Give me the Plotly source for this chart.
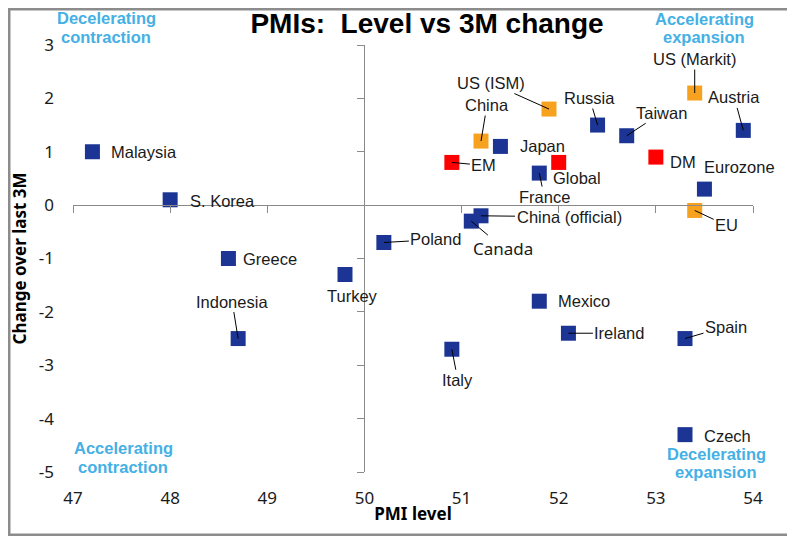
import plotly.graph_objects as go

# ---- data ----
countries = ["Malaysia", "S. Korea", "Greece", "Indonesia", "Turkey", "Poland", "Italy",
             "Canada", "China (official)", "Mexico", "Ireland", "Spain", "Czech",
             "Eurozone", "Austria", "Taiwan", "Russia", "Japan", "France"]
countries_pmi = [47.2, 48.0, 48.6, 48.7, 49.8, 50.2, 50.9,
                 51.1, 51.2, 51.8, 52.1, 53.3, 53.3,
                 53.5, 53.9, 52.7, 52.4, 51.4, 51.8]
countries_chg = [1.0, 0.1, -1.0, -2.5, -1.3, -0.7, -2.7,
                 -0.3, -0.2, -1.8, -2.4, -2.5, -4.3,
                 0.3, 1.4, 1.3, 1.5, 1.1, 0.6]

majors = ["US (Markit)", "US (ISM)", "China", "EU"]
majors_pmi = [53.4, 51.9, 51.2, 53.4]
majors_chg = [2.1, 1.8, 1.2, -0.1]

aggregates = ["DM", "Global", "EM"]
aggregates_pmi = [53.0, 52.0, 50.9]
aggregates_chg = [0.9, 0.8, 0.8]

x_ticks = [47, 48, 49, 50, 51, 52, 53, 54]
y_ticks = [3, 2, 1, 0, -1, -2, -3, -4, -5]

quadrant_lines = ["Decelerating", "contraction", "Accelerating", "expansion",
                  "Accelerating", "contraction", "Decelerating", "expansion"]

# label offsets in pixels (dx, dy) and whether a leader line is drawn
label_pos = {
    "Malaysia": (52, 0, False), "S. Korea": (52, 1, False), "Greece": (42, 0, False),
    "Indonesia": (-6, -37, True), "Turkey": (7, 21, False), "Poland": (52, -3, True),
    "Italy": (6, 31, True), "Canada": (32, 27, True), "China (official)": (88, 1, True),
    "Mexico": (45, 0, False), "Ireland": (51, 0, True), "Spain": (41, -12, True),
    "Czech": (42, 1, False), "Eurozone": (35, -22, False), "Austria": (-9, -33, True),
    "Taiwan": (35, -23, True), "Russia": (-8, -27, True), "Japan": (42, 0, False),
    "France": (5, 24, True), "US (Markit)": (0, -34, True), "US (ISM)": (-58, -26, True),
    "China": (6, -36, True), "EU": (32, 15, True), "DM": (27, 5, False),
    "Global": (18, 16, False), "EM": (32, 3, True),
}

BLUE = "#1C3594"
ORANGE = "#F7A21E"
RED = "#FF0000"
QUAD = "#45B0E4"
AXIS_GREY = "#8A8A8A"

# page has an 8px body margin: figure is sized to fill the remaining window
W, H = 787, 528
ML, MT, MR, MB = 65, 37, 42, 64
PW, PH = W - ML - MR, H - MT - MB  # 680 x 427


def px_to_paper(px, py):
    # px, py are page pixel positions; plot area spans page x 73..753, y 45..472
    return (px - (ML + 8)) / PW, ((MT + 8 + PH) - py) / PH


fig = go.Figure()

groups = [(countries, countries_pmi, countries_chg, BLUE),
          (majors, majors_pmi, majors_chg, ORANGE),
          (aggregates, aggregates_pmi, aggregates_chg, RED)]

annotations = []
for names, xs, ys, col in groups:
    fig.add_trace(go.Scatter(x=xs, y=ys, mode="markers", text=names,
                             marker=dict(symbol="square", size=15, color=col, line=dict(width=0)),
                             showlegend=False, hovertemplate="%{text}: %{x}, %{y}<extra></extra>"))
    for n, xv, yv in zip(names, xs, ys):
        dx, dy, leader = label_pos[n]
        fnt = dict(family="Liberation Sans", size=16.5, color="#1a1a1a")
        if n == "Canada":
            fnt = dict(family="Noto Sans", size=17, color="#1a1a1a")
        annotations.append(dict(x=xv, y=yv, xref="x", yref="y", text=n, showarrow=True,
                                ax=dx, ay=dy, arrowhead=0, arrowwidth=1, standoff=0,
                                arrowcolor="#000000" if leader else "rgba(0,0,0,0)",
                                font=fnt))

# invisible trace to carry the crossing axes
fig.add_trace(go.Scatter(x=[50], y=[0], xaxis="x2", yaxis="y2", mode="markers",
                         marker=dict(opacity=0), showlegend=False, hoverinfo="skip"))

quad_px = [(106, 18), (106, 37), (704, 19), (704, 37),
           (123, 448), (123, 467), (716, 454), (716, 472)]
for t, (qx, qy) in zip(quadrant_lines, quad_px):
    xp, yp = px_to_paper(qx, qy)
    annotations.append(dict(x=xp, y=yp, xref="paper", yref="paper", text="<b>%s</b>" % t,
                            showarrow=False, xanchor="center", yanchor="middle",
                            font=dict(family="Liberation Sans", size=16.5, color=QUAD)))

tick_font = dict(family="Noto Sans", size=17, color="#1a1a1a")
title_font = dict(family="Noto Sans", size=17, color="#000000")

fig.update_layout(
    width=W, height=H,
    margin=dict(l=ML, r=MR, t=MT, b=MB, autoexpand=False),
    paper_bgcolor="white", plot_bgcolor="white",
    title=dict(text="<b>PMIs:  Level vs 3M change</b>", x=px_to_paper(427, 0)[0], xref="paper",
               y=1, yref="container", xanchor="center", yanchor="top",
               pad=dict(t=5, b=0, l=0, r=0),
               font=dict(family="Liberation Sans", size=28, color="#000000")),
    xaxis=dict(range=[47, 54], tickvals=x_ticks, ticktext=[str(v) for v in x_ticks],
               ticks="", showline=False, showgrid=False, automargin=False,
               zeroline=False, tickfont=tick_font, ticklabelstandoff=14,
               title=dict(text="<b>PMI level</b>", font=title_font, standoff=0)),
    yaxis=dict(range=[-5, 3], tickvals=y_ticks, ticktext=[str(v) for v in y_ticks],
               ticks="", showline=False, showgrid=False, automargin=False,
               zeroline=False, tickfont=tick_font, ticklabelstandoff=18,
               title=dict(text="<b>Change over last 3M</b>", font=title_font, standoff=8)),
    xaxis2=dict(range=[47, 54], overlaying="x", anchor="free", position=0.625, side="bottom",
                tickvals=x_ticks, ticks="outside", ticklen=7, tickcolor=AXIS_GREY,
                showline=True, linecolor=AXIS_GREY, linewidth=1, showticklabels=False,
                showgrid=False, zeroline=False, automargin=False),
    yaxis2=dict(range=[-5, 3], overlaying="y", anchor="free", position=3 / 7, side="left",
                tickvals=y_ticks, ticks="outside", ticklen=7, tickcolor=AXIS_GREY,
                showline=True, linecolor=AXIS_GREY, linewidth=1, showticklabels=False,
                showgrid=False, zeroline=False, automargin=False),
    annotations=annotations,
    shapes=[dict(type="rect", xref="paper", yref="paper",
                 x0=-ML / PW, x1=1 + MR / PW, y0=-MB / PH, y1=1 + MT / PH,
                 line=dict(color="#8C8C8C", width=5), fillcolor="rgba(0,0,0,0)", layer="above")],
)

fig.write_html("out.html")
